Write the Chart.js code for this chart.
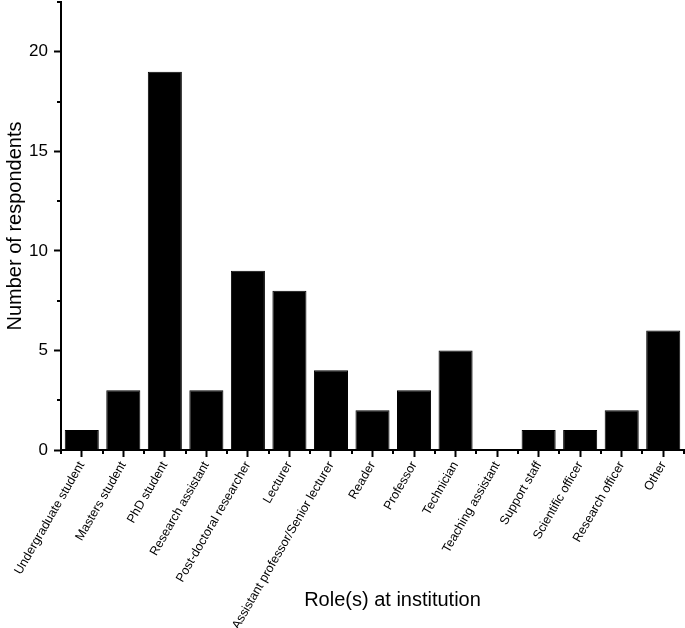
<!DOCTYPE html>
<html>
<head>
<meta charset="utf-8">
<script src="https://cdn.jsdelivr.net/npm/chart.js@4/dist/chart.umd.min.js"></script>
<style>
html,body{margin:0;padding:0;background:#fff;}
#wrap{width:685px;height:628px;position:relative;}
</style>
</head>
<body>
<div id="wrap"><canvas id="c" width="685" height="628"></canvas></div>
<script>
const categories = ["Undergraduate student","Masters student","PhD student","Research assistant","Post-doctoral researcher","Lecturer","Assistant professor/Senior lecturer","Reader","Professor","Technician","Teaching assistant","Support staff","Scientific officer","Research officer","Other"];
const respondents = [1,3,19,3,9,8,4,2,3,5,0,1,1,2,6];
const yTitle = "Number of respondents";
const xTitle = "Role(s) at institution";

const FONT = "'Liberation Sans', Arial, sans-serif";

const minorTicks = {
  id: 'minorTicks',
  afterDraw(chart) {
    const ctx = chart.ctx;
    const y = chart.scales.y, x = chart.scales.x;
    const area = chart.chartArea;
    ctx.save();
    ctx.strokeStyle = '#000';
    ctx.lineWidth = 2;
    y.ticks.forEach(t => {
      if (t.value % 5 !== 0) {
        const py = Math.round(y.getPixelForValue(t.value));
        ctx.beginPath();
        ctx.moveTo(area.left - 4, py);
        ctx.lineTo(area.left, py);
        ctx.stroke();
      }
    });
    const n = categories.length;
    for (let i = 0; i <= n; i++) {
      const px = Math.round(x.getPixelForValue(i - 0.5));
      ctx.beginPath();
      ctx.moveTo(px, area.bottom);
      ctx.lineTo(px, area.bottom + 4);
      ctx.stroke();
    }
    ctx.fillStyle = '#000';
    ctx.font = "20px " + FONT;
    ctx.textAlign = 'center';
    ctx.textBaseline = 'middle';
    ctx.fillText(xTitle, (area.left + area.right) / 2 + 20, 600);
    ctx.restore();
  }
};

new Chart(document.getElementById('c'), {
  type: 'bar',
  data: {
    labels: categories,
    datasets: [{
      data: respondents,
      backgroundColor: '#000',
      borderColor: '#000',
      borderWidth: 1,
      barPercentage: 0.82,
      categoryPercentage: 1.0
    }]
  },
  options: {
    responsive: false,
    animation: false,
    layout: { padding: { left: 0, right: 1, top: 2, bottom: 0 } },
    plugins: { legend: { display: false }, tooltip: { enabled: false } },
    scales: {
      x: {
        grid: { drawOnChartArea: false, offset: false, tickLength: 7, tickColor: '#000', tickWidth: 2 },
        border: { color: '#000', width: 2 },
        ticks: {
          color: '#000',
          font: { family: FONT, size: 12.5 },
          minRotation: 60, maxRotation: 60, autoSkip: false, padding: 2
        },
        afterFit(scale) { scale.height = 178; scale.paddingLeft = 0; scale.paddingRight = 0; }
      },
      y: {
        min: 0, max: 22.5,
        grid: {
          drawOnChartArea: false, tickLength: 7, tickWidth: 2,
          tickColor: c => (c.tick && c.tick.value % 5 === 0) ? '#000' : 'rgba(0,0,0,0)'
        },
        border: { color: '#000', width: 2 },
        ticks: {
          stepSize: 2.5,
          color: '#000',
          font: { family: FONT, size: 17 },
          padding: 6,
          callback: v => (v % 5 === 0 ? v : '')
        },
        title: {
          display: true, text: yTitle, color: '#000',
          font: { family: FONT, size: 20 },
          padding: { top: 3, bottom: 0 }
        },
        afterFit(scale) { scale.width = 61; scale.paddingTop = 0; scale.paddingBottom = 0; }
      }
    }
  },
  plugins: [minorTicks]
});
</script>
</body>
</html>
